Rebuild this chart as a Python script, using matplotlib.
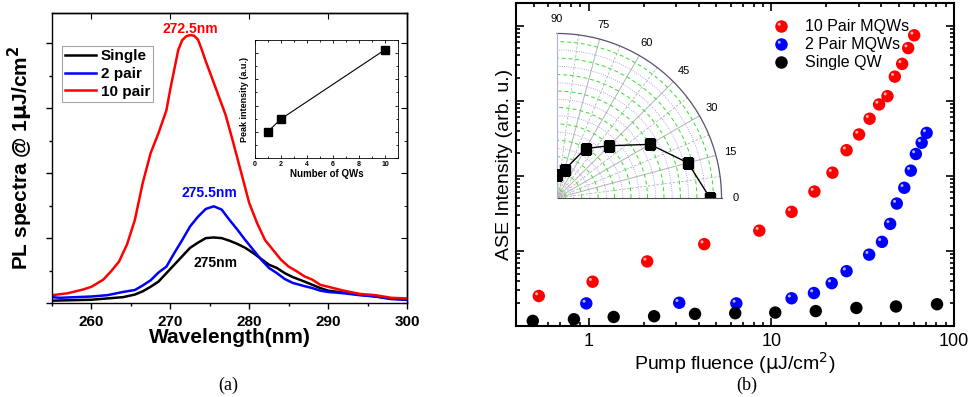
#!/usr/bin/env python

import numpy as np
import matplotlib as mpl
mpl.use('Agg')
import matplotlib.pyplot as plt

from matplotlib.path import Path
from matplotlib.lines import Line2D
from matplotlib.ticker import MultipleLocator, NullFormatter, LogLocator, FixedLocator

mpl.rc('font', family=['Liberation Sans', 'DejaVu Sans'])
mpl.rc('axes', linewidth=1.0)

# (a) PL spectra at 1 uJ/cm2
red_wl = [255, 257, 259, 260, 261.5, 262.5, 263.5, 264.5, 265.5, 266.5, 267.5,
          268.5, 269.5, 270, 270.5, 271, 271.5, 272, 272.5, 273, 273.5, 274,
          274.5, 275, 276, 277, 278, 279, 280, 281, 282, 283, 284, 285, 286,
          287, 288, 289, 290, 292, 294, 296, 298, 300]
red_pl = [0.12, 0.15, 0.21, 0.25, 0.36, 0.49, 0.64, 0.90, 1.28, 1.85, 2.31,
          2.62, 2.97, 3.30, 3.60, 3.90, 4.05, 4.11, 4.13, 4.12, 4.06, 3.90,
          3.72, 3.56, 3.23, 2.90, 2.46, 2.00, 1.54, 1.23, 0.97, 0.82, 0.67,
          0.56, 0.49, 0.41, 0.36, 0.28, 0.25, 0.19, 0.14, 0.12, 0.08, 0.07]

blue_wl = [255, 256, 258, 260, 262, 264, 265.5, 266.5, 267.5, 268.5, 269.5,
           270.5, 271.5, 272.5, 273.5, 274.5, 275.5, 276.5, 277.5, 278.5, 279.5,
           280.5, 281.5, 282.5, 283.5, 284.5, 285.5, 287, 288, 289, 290, 292,
           294, 296, 298, 300]
blue_pl = [0.09, 0.08, 0.09, 0.10, 0.12, 0.17, 0.20, 0.27, 0.35, 0.47, 0.56,
           0.77, 0.97, 1.18, 1.33, 1.45, 1.49, 1.44, 1.28, 1.13, 0.97, 0.82,
           0.67, 0.54, 0.46, 0.37, 0.31, 0.26, 0.23, 0.19, 0.17, 0.15, 0.12,
           0.10, 0.06, 0.05]

black_wl = [255, 260, 262, 264, 265.5, 266.5, 267.5, 268.5, 269.5, 270.5, 271.5,
            272.5, 273.5, 274.5, 275.5, 276.5, 277.5, 278.5, 279.5, 280.5, 281.5,
            282.5, 283.5, 284.5, 285.5, 287, 288, 289, 290, 292, 294, 296, 298,
            300]
black_pl = [0.036, 0.05, 0.07, 0.09, 0.13, 0.18, 0.25, 0.33, 0.46, 0.59, 0.72,
            0.85, 0.93, 1.00, 1.01, 1.00, 0.96, 0.91, 0.85, 0.77, 0.68, 0.59,
            0.54, 0.46, 0.40, 0.33, 0.28, 0.23, 0.19, 0.16, 0.13, 0.10, 0.07,
            0.05]

n_qw = [1, 2, 10]
peak_int = [1.01, 1.49, 4.13]

# (b) ASE vs pump fluence
f_10 = [0.533, 1.05, 2.09, 4.29, 8.59, 12.9, 17.2, 21.6, 25.8, 30.2, 34.5,
        38.9, 43.2, 47.4, 52.0, 56.1, 60.5]
ase_10 = [2.51, 3.89, 7.24, 12.3, 18.6, 33.1, 61.7, 110, 219, 355, 575, 891,
          1148, 2089, 3090, 5012, 7413]

f_2 = [0.97, 3.13, 6.43, 12.9, 17.1, 21.4, 25.8, 34.3, 40.3, 44.7, 48.6, 53.4,
       58.0, 61.8, 66.5, 70.8]
ase_2 = [2.0, 2.04, 2.0, 2.34, 2.75, 3.72, 5.37, 8.91, 13.2, 22.9, 42.7, 69.2,
         117, 195, 275, 372]

f_1 = [0.494, 0.83, 1.37, 2.28, 3.82, 6.34, 10.5, 17.5, 29.2, 48.1, 80.7]
ase_1 = [1.17, 1.23, 1.32, 1.35, 1.45, 1.48, 1.51, 1.58, 1.74, 1.82, 1.95]

# polar inset
ang_deg = [90, 75, 60, 45, 30, 15, 0]
ang_r = [0.137, 0.177, 0.347, 0.449, 0.652, 0.824, 0.93]
ang_ticks = [0, 15, 30, 45, 60, 75, 90]


def sphere_highlight():
    # small offset disc drawn on top of each ball; the stray moveto keeps the
    # marker scale equal to that of a plain 'o'
    circ = Path.circle(center=(-0.36, 0.36), radius=0.24)
    verts = np.vstack([[[1.0, 0.0]], circ.vertices])
    codes = np.concatenate([[Path.MOVETO], circ.codes])
    return Path(verts, codes)


def main() -> None:

    fig = plt.figure(figsize=(9.74, 3.97), dpi=100)

    # ---------------- (a) ----------------
    ax0 = fig.add_axes([0.0534, 0.2368, 0.3645, 0.7305])

    ax0.plot(black_wl, black_pl, color='k', lw=1.8, label='Single')
    ax0.plot(blue_wl, blue_pl, color='#0000ff', lw=1.8, label='2 pair')
    ax0.plot(red_wl, red_pl, color='#ff0000', lw=1.8, label='10 pair')

    ax0.set_xlim(255, 300)
    ax0.set_ylim(0, 4.47)
    ax0.xaxis.set_major_locator(MultipleLocator(10))
    ax0.xaxis.set_minor_locator(MultipleLocator(5))
    ax0.yaxis.set_major_locator(MultipleLocator(1))
    ax0.yaxis.set_minor_locator(MultipleLocator(0.5))
    ax0.yaxis.set_major_formatter(NullFormatter())
    ax0.tick_params(which='major', direction='out', length=4, width=1,
                    labelsize=11, pad=5)
    ax0.tick_params(which='minor', direction='out', length=2.5, width=1)
    for lab in ax0.get_xticklabels():
        lab.set_fontweight('bold')

    sec_r = ax0.secondary_yaxis('right')
    sec_r.yaxis.set_major_locator(MultipleLocator(1))
    sec_r.yaxis.set_minor_locator(MultipleLocator(0.5))
    sec_r.yaxis.set_major_formatter(NullFormatter())
    sec_r.tick_params(which='major', direction='in', length=4)
    sec_r.tick_params(which='minor', direction='in', length=2.5)

    sec_t = ax0.secondary_xaxis('top')
    sec_t.xaxis.set_major_locator(MultipleLocator(10))
    sec_t.xaxis.set_minor_locator(MultipleLocator(5))
    sec_t.xaxis.set_major_formatter(NullFormatter())
    sec_t.tick_params(which='major', direction='in', length=4)
    sec_t.tick_params(which='minor', direction='in', length=0)

    ax0.set_xlabel('Wavelength(nm)', fontsize=15, fontweight='bold', labelpad=-1)
    ax0.set_ylabel(r'PL spectra @ 1$\mathbf{\mu}$J/cm$^\mathbf{2}$', fontsize=15,
                   fontweight='bold')
    ax0.yaxis.set_label_coords(-0.048, 0.5)

    ax0.text(272.5, 4.23, '272.5nm', color='#ff0000', fontsize=10,
             fontweight='bold', ha='center', va='center')
    ax0.text(274.95, 1.69, '275.5nm', color='#0000ff', fontsize=10,
             fontweight='bold', ha='center', va='center')
    ax0.text(275.75, 0.61, '275nm', color='k', fontsize=10,
             fontweight='bold', ha='center', va='center')

    leg0 = ax0.legend(
        loc='upper left',
        bbox_to_anchor=(0.028, 0.886),
        borderaxespad=0,
        handlelength=2.0,
        handletextpad=0.35,
        labelspacing=0.25,
        borderpad=0.2,
        fancybox=False,
        prop={'size': 11, 'weight': 'bold'},
    )
    leg0.get_frame().set_edgecolor('0.55')
    leg0.get_frame().set_linewidth(0.8)

    # inset: peak intensity vs number of QWs
    axi = fig.add_axes([0.2618, 0.602, 0.1468, 0.2972])
    axi.plot(n_qw, peak_int, color='k', lw=0.8, marker='s', ms=6)
    axi.set_xlim(0, 11)
    axi.set_ylim(0, 4.5)
    axi.xaxis.set_major_locator(MultipleLocator(2))
    axi.xaxis.set_minor_locator(MultipleLocator(1))
    axi.yaxis.set_major_locator(MultipleLocator(1))
    axi.yaxis.set_minor_locator(MultipleLocator(0.5))
    axi.yaxis.set_major_formatter(NullFormatter())
    axi.tick_params(which='both', direction='in', top=True, right=True,
                    width=0.6, labelsize=5, pad=2)
    axi.tick_params(which='major', length=2.5)
    axi.tick_params(which='minor', length=1.5)
    for lab in axi.get_xticklabels():
        lab.set_fontweight('bold')
    for s in axi.spines.values():
        s.set_linewidth(0.6)
    axi.set_xlabel('Number of QWs', fontsize=7, fontweight='bold', labelpad=1)
    axi.set_ylabel('Peak intensity (a.u.)', fontsize=6.5, fontweight='bold',
                   labelpad=2)

    # ---------------- (b) ----------------
    ax1 = fig.add_axes([0.5298, 0.1788, 0.4497, 0.8136])

    hl = sphere_highlight()
    size = 80
    groups = [
        (f_10, ase_10, '#ff0000', '10 Pair MQWs'),
        (f_2, ase_2, '#0000ff', '2 Pair MQWs'),
        (f_1, ase_1, '#000000', 'Single QW'),
    ]
    handles = []
    for fx, fy, col, lab in groups:
        ax1.scatter(fx, fy, s=size, color=col, edgecolors='none', zorder=3,
                    clip_on=False)
        if col != '#000000':
            ax1.scatter(fx, fy, s=size, marker=hl, color='white', alpha=0.7,
                        edgecolors='none', zorder=4, clip_on=False)
        h_main = Line2D([], [], ls='none', marker='o', ms=9, color=col,
                        markeredgecolor='none')
        if col != '#000000':
            h_hl = Line2D([], [], ls='none', marker=hl, ms=9, color='white',
                          alpha=0.7, markeredgecolor='none')
            handles.append(((h_main, h_hl), lab))
        else:
            handles.append((h_main, lab))

    ax1.set_xscale('log')
    ax1.set_yscale('log')
    ax1.set_xlim(0.4, 100)
    ax1.set_ylim(1, 10**4.3)

    ax1.xaxis.set_major_locator(FixedLocator([1, 10, 100]))
    ax1.set_xticklabels(['1', '10', '100'])
    ax1.xaxis.set_minor_locator(LogLocator(base=10, subs=np.arange(2, 10)))
    ax1.xaxis.set_minor_formatter(NullFormatter())
    ax1.yaxis.set_major_locator(LogLocator(base=10, numticks=10))
    ax1.yaxis.set_minor_locator(LogLocator(base=10, subs=np.arange(2, 10), numticks=10))
    ax1.yaxis.set_major_formatter(NullFormatter())
    ax1.yaxis.set_minor_formatter(NullFormatter())
    ax1.tick_params(which='both', direction='in', top=True, right=True,
                    width=1.2, labelsize=13, pad=5)
    ax1.tick_params(which='major', length=6)
    ax1.tick_params(which='minor', length=3)
    for s in ax1.spines.values():
        s.set_linewidth(1.5)

    ax1.set_xlabel(r'Pump fluence ($\mathrm{\mu}$J/cm$^2$)', fontsize=14, labelpad=0)
    ax1.set_ylabel('ASE Intensity (arb. u.)', fontsize=14, labelpad=-3)

    ax1.legend(
        [h for h, _ in handles],
        [l for _, l in handles],
        loc='upper left',
        bbox_to_anchor=(0.555, 0.97),
        frameon=False,
        fontsize=11.5,
        handletextpad=0.45,
        labelspacing=0.2,
        borderaxespad=0,
    )

    # polar inset
    axp = fig.add_axes([0.5719, 0.5013, 0.1689, 0.4144], projection='polar')
    axp.set_thetamin(0)
    axp.set_thetamax(90)
    axp.set_rlim(0, 1)
    axp.plot(np.deg2rad(ang_deg), ang_r, color='k', lw=1, marker='s', ms=6.5,
             zorder=5)
    axp.set_thetagrids(ang_ticks, labels=[str(a) for a in ang_ticks], fontsize=8)
    axp.xaxis.set_minor_locator(FixedLocator(np.deg2rad(np.arange(7.5, 90, 15))))
    axp.set_rticks(np.arange(0.1, 1.01, 0.1))
    axp.yaxis.set_minor_locator(FixedLocator(np.arange(0.05, 1.0, 0.1)))
    axp.set_yticklabels([])
    axp.tick_params(axis='x', pad=0)
    axp.tick_params(which='minor', length=0)
    axp.grid(axis='x', which='major', color='0.7', lw=0.7, ls='-')
    axp.grid(axis='x', which='minor', color='0.7', lw=0.6, ls=(0, (3, 2)))
    axp.grid(axis='y', which='major', color='#9090ee', lw=0.6, ls=':')
    axp.grid(axis='y', which='minor', color='#33dd33', lw=0.7, ls=(0, (4, 3)))
    axp.spines['polar'].set_color('#555570')
    axp.spines['polar'].set_linewidth(0.9)
    axp.spines['start'].set_color('0.3')
    axp.spines['start'].set_linewidth(0.8)
    axp.spines['end'].set_color('#b0b0e0')
    axp.spines['end'].set_linewidth(0.8)

    fig.text(0.234, 0.03, '(a)', fontsize=13, family='Liberation Serif',
             ha='center', va='center')
    fig.text(0.767, 0.03, '(b)', fontsize=13, family='Liberation Serif',
             ha='center', va='center')

    fig.savefig('out.png', dpi=100)

    return


if __name__ == '__main__':
    main()
